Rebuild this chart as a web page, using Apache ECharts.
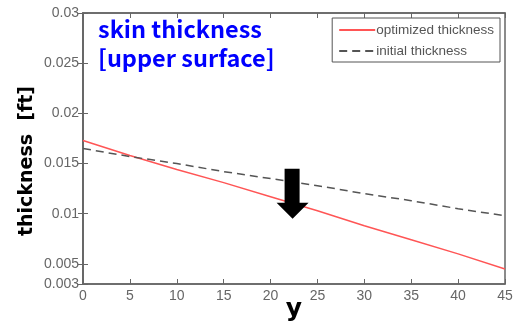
<!DOCTYPE html>
<html><head><meta charset="utf-8">
<script src="https://cdn.jsdelivr.net/npm/echarts@6/dist/echarts.min.js"></script>
<style>html,body{margin:0;padding:0;background:#fff}#c{width:518px;height:325px}</style>
</head><body><div id="c"></div>
<script>
const yPos = [0, 5, 10, 15, 20, 25, 30, 35, 40, 45];
const optimized = [0.0173, 0.0158, 0.0144, 0.0131, 0.0117, 0.0103, 0.0088, 0.0074, 0.0060, 0.0045];
const initial = [0.0165, 0.0157, 0.0150, 0.0142, 0.0135, 0.0128, 0.0120, 0.0113, 0.0105, 0.0098];
const xTicks = [0, 5, 10, 15, 20, 25, 30, 35, 40, 45];
const yTicks = [0.003, 0.005, 0.01, 0.015, 0.02, 0.025, 0.03];
const arrowAt = [22.35, 0.0120];

const axisColor = '#666';
const labelStyle = {color: '#666', fontFamily: 'Liberation Sans, Arial', fontSize: 14};
const chart = echarts.init(document.getElementById('c'));
chart.setOption({
  animation: false,
  grid: {left: 83, right: 13, top: 13, bottom: 41, outerBoundsMode: 'none', containLabel: false,
         show: true, borderColor: axisColor, borderWidth: 1.5},
  title: {
    text: 'skin thickness\n[upper surface]', left: 93, top: 10,
    textStyle: {color: '#0000ff', fontSize: 23.5, fontWeight: 'bold', fontFamily: 'Noto Sans CJK KR', lineHeight: 29}
  },
  legend: {
    orient: 'vertical', right: 18, top: 18, itemWidth: 36, itemHeight: 10, itemGap: 7,
    backgroundColor: '#fff', borderColor: '#555', borderWidth: 1, padding: [5, 6, 4, 6],
    itemStyle: {opacity: 0},
    textStyle: {color: '#555', fontFamily: 'Liberation Sans, Arial', fontSize: 13.5, padding: [0, 0, 0, -4]},
    data: ['optimized thickness', 'initial thickness']
  },
  xAxis: [{
    type: 'value', min: 0, max: 45, interval: 5,
    name: 'y', nameLocation: 'middle', nameGap: 13, nameMoveOverlap: false,
    nameTextStyle: {color: '#000', fontSize: 25, fontWeight: 'bold', fontFamily: 'DejaVu Sans'},
    axisLine: {show: true, lineStyle: {color: axisColor, width: 1.5}},
    axisTick: {inside: true, length: 5, lineStyle: {color: axisColor}, customValues: xTicks},
    axisLabel: Object.assign({margin: 5, customValues: xTicks}, labelStyle),
    splitLine: {show: false}
  }, {
    type: 'value', min: 0, max: 45, interval: 5, position: 'top',
    axisLine: {show: true, lineStyle: {color: axisColor, width: 1.5}},
    axisTick: {inside: true, length: 5, lineStyle: {color: axisColor}, customValues: xTicks},
    axisLabel: {show: false}, splitLine: {show: false}
  }],
  yAxis: [{
    type: 'value', min: 0.003, max: 0.03,
    name: 'thickness  [ft]', nameLocation: 'middle', nameGap: 46, nameMoveOverlap: false,
    nameTextStyle: {color: '#000', fontSize: 19, fontWeight: 'bold', fontFamily: 'DejaVu Sans',
                    padding: [0, 25, 0, 0]},
    axisLine: {show: true, lineStyle: {color: axisColor, width: 1.5}},
    axisTick: {inside: true, length: 5, lineStyle: {color: axisColor}, customValues: yTicks},
    axisLabel: Object.assign({margin: 4, customValues: yTicks, formatter: v => String(+v.toFixed(3))}, labelStyle),
    splitLine: {show: false}
  }, {
    type: 'value', min: 0.003, max: 0.03, position: 'right',
    axisLine: {show: true, lineStyle: {color: axisColor, width: 1.5}},
    axisTick: {inside: true, length: 5, lineStyle: {color: axisColor}, customValues: yTicks},
    axisLabel: {show: false}, splitLine: {show: false}
  }],
  series: [{
    name: 'optimized thickness', type: 'line', symbol: 'none',
    lineStyle: {color: '#ff5555', width: 1.5}, itemStyle: {color: '#ff5555'},
    data: yPos.map((x, i) => [x, optimized[i]])
  }, {
    name: 'initial thickness', type: 'line', symbol: 'none',
    lineStyle: {color: '#555', width: 1.5, type: [8, 5]}, itemStyle: {color: '#555'},
    data: yPos.map((x, i) => [x, initial[i]]),
    markPoint: {
      silent: true,
      symbol: 'path://M8,0 L23,0 L23,34 L32,34 L16,50 L0,34 L8,34 Z',
      symbolSize: [32, 50], symbolKeepAspect: false,
      itemStyle: {color: '#000', opacity: 1}, label: {show: false},
      data: [{coord: arrowAt}]
    }
  }]
});
</script></body></html>
